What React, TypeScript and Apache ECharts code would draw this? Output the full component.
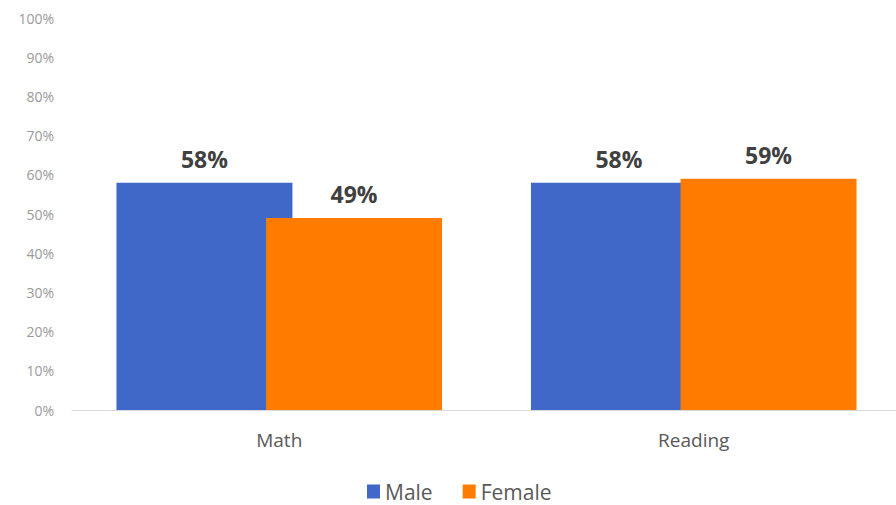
import React, { useEffect, useRef } from "react";
import * as echarts from "echarts";

const categories = ["Math", "Reading"];
const maleValues = [58, 58];
const femaleValues = [49, 59];
const yTicks = [0, 10, 20, 30, 40, 50, 60, 70, 80, 90, 100];

export default function App() {
  const ref = useRef<HTMLDivElement>(null);

  useEffect(() => {
    if (!ref.current) return;
    const chart = echarts.init(ref.current, null, { renderer: "svg" });
    const font = "'Open Sans', 'Noto Sans', sans-serif";
    const labelStyle = {
      show: true,
      position: "top" as const,
      distance: 12,
      formatter: (p: any) => `${p.value}%`,
      fontFamily: font,
      fontSize: 23,
      fontWeight: "bold" as const,
      color: "#404040",
    };
    chart.setOption({
      animation: false,
      backgroundColor: "#ffffff",
      textStyle: { fontFamily: font },
      legend: {
        data: ["Male", "Female"],
        left: 367,
        top: 481,
        padding: 0,
        itemWidth: 13,
        itemHeight: 14,
        itemGap: 30,
        icon: "rect",
        textStyle: { fontFamily: font, fontSize: 21, color: "#595959" },
      },
      grid: { left: 72, top: 18, right: 9, bottom: 95, containLabel: false },
      xAxis: {
        type: "category",
        data: categories,
        axisLine: { lineStyle: { color: "#d9d9d9", width: 1 } },
        axisTick: { show: false },
        axisLabel: { fontFamily: font, fontSize: 19, color: "#595959", margin: 20 },
      },
      yAxis: {
        type: "value",
        min: yTicks[0],
        max: yTicks[yTicks.length - 1],
        interval: 10,
        splitLine: { show: false },
        axisLine: { show: false },
        axisTick: { show: false },
        axisLabel: {
          formatter: (v: number) => `${v}%`,
          fontFamily: font,
          fontSize: 14,
          color: "#9a9a9a",
          margin: 18,
        },
      },
      series: [
        {
          name: "Male",
          type: "bar",
          data: maleValues,
          barWidth: 176,
          barGap: "-15%",
          itemStyle: { color: "#4068c8" },
          label: labelStyle,
        },
        {
          name: "Female",
          type: "bar",
          data: femaleValues,
          barWidth: 176,
          barGap: "-15%",
          itemStyle: { color: "#ff7c00" },
          label: labelStyle,
        },
      ],
    });
    return () => chart.dispose();
  }, []);

  // The plot runs slightly past the right edge, so the chart is wider than its frame.
  return (
    <div style={{ position: "absolute", left: 0, top: 0, width: 896, height: 505, overflow: "hidden" }}>
      <div ref={ref} style={{ width: 910, height: 505 }} />
    </div>
  );
}
